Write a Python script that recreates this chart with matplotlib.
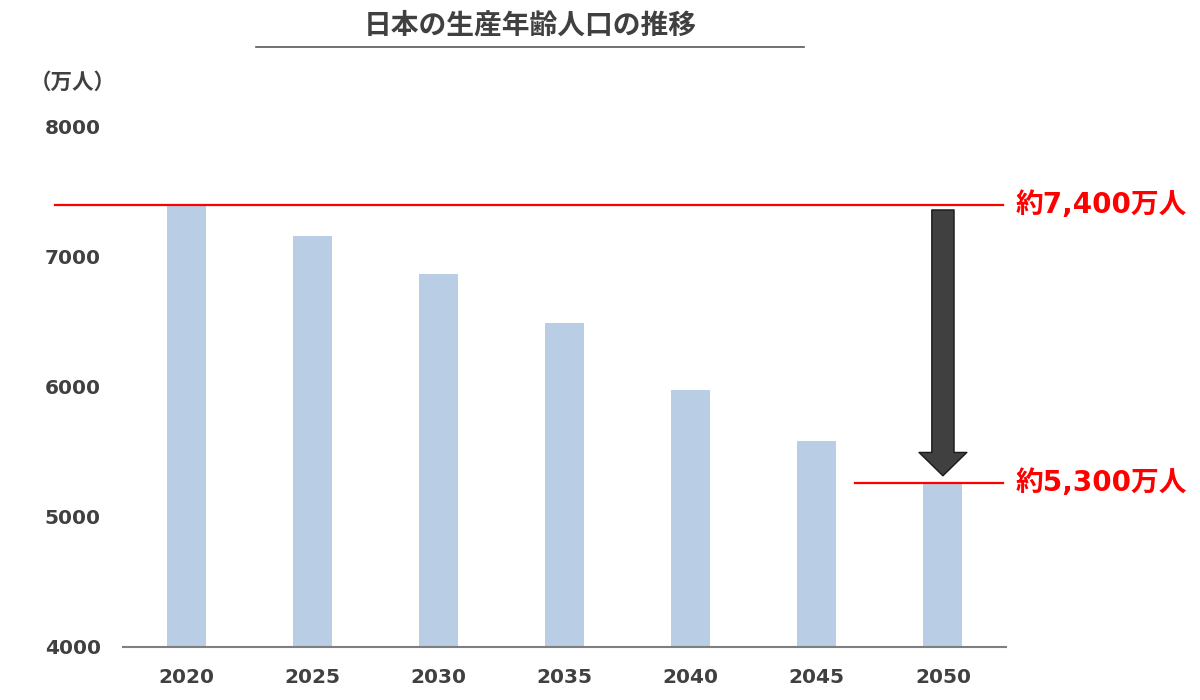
import matplotlib
matplotlib.use("Agg")
import matplotlib.pyplot as plt
from matplotlib.lines import Line2D

plt.rcParams['font.family'] = ['Noto Sans CJK JP', 'DejaVu Sans']

years = ["2020", "2025", "2030", "2035", "2040", "2045", "2050"]
population = [7400, 7160, 6870, 6490, 5975, 5585, 5262]
title = "日本の生産年齢人口の推移"
unit_label = "（万人）"
high_label = "約7,400万人"
low_label = "約5,300万人"
high_value = 7400
low_value = population[-1]
yticks = [4000, 5000, 6000, 7000, 8000]

bar_color = "#B9CDE5"
text_color = "#404040"
red = "#FF0000"

fig = plt.figure(figsize=(12, 7), dpi=100)
ax = fig.add_axes([123/1200, 1-647/700, (1006-123)/1200, (647-127)/700])

x = list(range(len(years)))
ax.bar(x, population, width=0.31, color=bar_color, zorder=2)
ax.set_xlim(-0.5, len(years) - 0.5)
ax.set_ylim(4000, 8000)
ax.set_yticks(yticks)
ax.set_yticklabels([str(t) for t in yticks], fontfamily="DejaVu Sans",
                   fontweight="bold", fontsize=14.5, color=text_color)
ax.set_xticks(x)
ax.set_xticklabels(years, fontfamily="DejaVu Sans", fontweight="bold",
                   fontsize=14.5, color=text_color)
ax.tick_params(axis="both", length=0)
ax.tick_params(axis="y", pad=16)
ax.tick_params(axis="x", pad=15)
for s in ["top", "right", "left"]:
    ax.spines[s].set_visible(False)
ax.spines["bottom"].set_color("#7F7F7F")
ax.spines["bottom"].set_linewidth(1.5)

# Red reference lines
ax.plot([-1.04, 6.48], [high_value, high_value], color=red, lw=1.6,
        clip_on=False, zorder=3)
ax.plot([5.30, 6.48], [low_value, low_value], color=red, lw=1.6,
        clip_on=False, zorder=3)
label_font = ['DejaVu Sans', 'Noto Sans CJK JP']
ax.text(6.575, high_value, high_label, color=red, fontsize=20,
        fontweight="bold", va="center", ha="left", clip_on=False,
        family=label_font)
ax.text(6.575, low_value, low_label, color=red, fontsize=20,
        fontweight="bold", va="center", ha="left", clip_on=False,
        family=label_font)

# Arrow
ax.annotate("", xy=(6, low_value + 55), xytext=(6, high_value - 38),
            arrowprops=dict(arrowstyle="simple,head_width=2.15,head_length=1.05,tail_width=1.0",
                            mutation_scale=16, facecolor="#404040",
                            edgecolor="#1A1A1A", lw=1.0,
                            shrinkA=0, shrinkB=0),
            annotation_clip=False, zorder=4)

# Title and underline
fig.text(530/1200, 1-26/700, title, ha="center", va="center",
         fontsize=20, fontweight="bold", color=text_color)
fig.add_artist(Line2D([256/1200, 804/1200], [1-47/700, 1-47/700],
                      color="#595959", lw=1.2, transform=fig.transFigure))

fig.text(73/1200, 1-82/700, unit_label, ha="center", va="center",
         fontsize=15.5, fontweight="bold", color=text_color)

fig.savefig("out.png", dpi=100)
